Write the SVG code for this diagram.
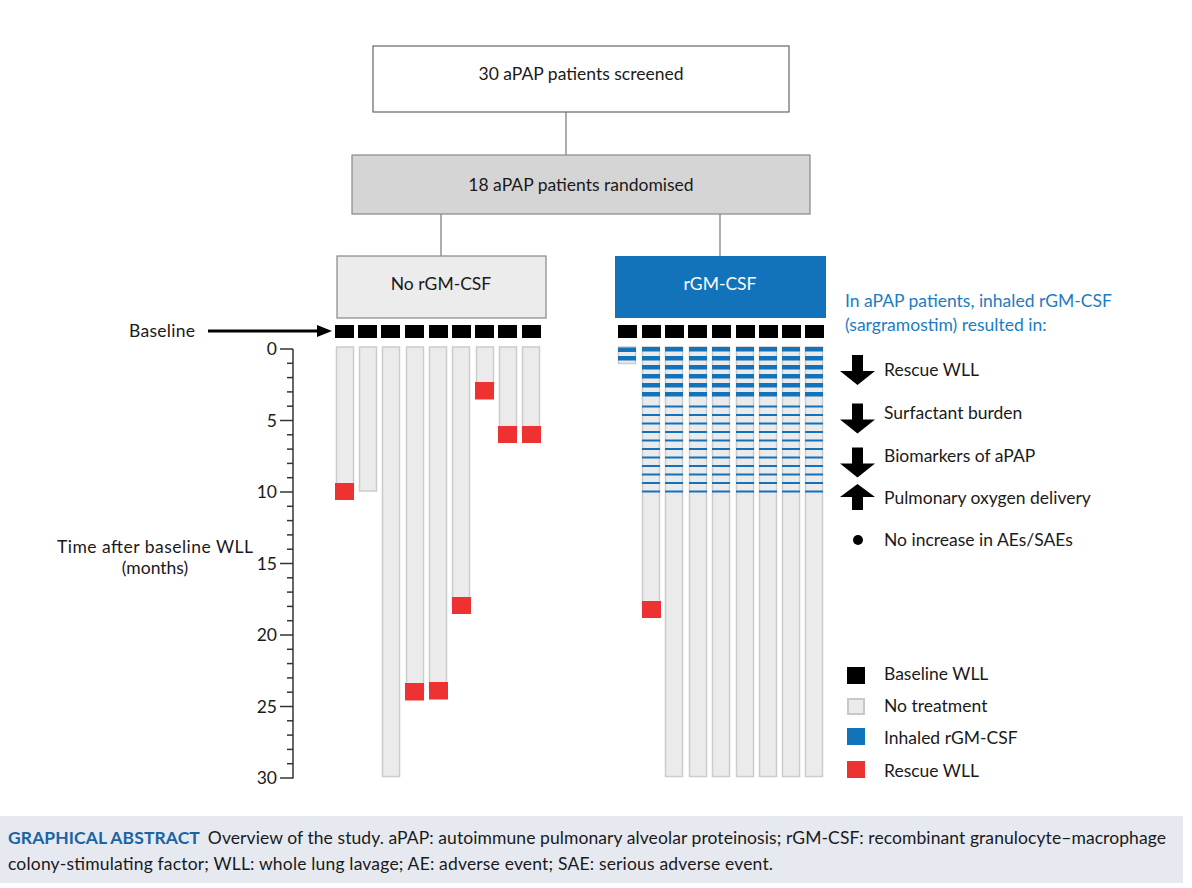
<svg xmlns="http://www.w3.org/2000/svg" xmlns:xlink="http://www.w3.org/1999/xlink" width="1192" height="888" viewBox="0 0 1192 888">
<style>
text{font-family:Lato,"Liberation Sans",sans-serif;fill:#1a1a1a}
.t{font-size:17.5px}
.c{text-anchor:middle}
.bar{fill:#ebebeb;stroke:#cccccc;stroke-width:1.5}
.blk{fill:#000}
.red{fill:#ee3131}
.blu{fill:#1273bb}
.tick{stroke:#333;stroke-width:1.5}
.conn{stroke:#777;stroke-width:1.2;fill:none}
.cap{font-size:17.5px}
</style>
<defs>
<g id="stripes" class="blu">
<rect x="0" y="347" width="18" height="4.5"/>
<rect x="0" y="356" width="18" height="4.5"/>
<rect x="0" y="365" width="18" height="4.5"/>
<rect x="0" y="374" width="18" height="4.5"/>
<rect x="0" y="383" width="18" height="4.5"/>
<rect x="0" y="392" width="18" height="4.5"/>
<rect x="0" y="405.5" width="18" height="2"/>
<rect x="0" y="414" width="18" height="2"/>
<rect x="0" y="422.5" width="18" height="2"/>
<rect x="0" y="431" width="18" height="2"/>
<rect x="0" y="439.5" width="18" height="2"/>
<rect x="0" y="448" width="18" height="2"/>
<rect x="0" y="456.5" width="18" height="2"/>
<rect x="0" y="465" width="18" height="2"/>
<rect x="0" y="473.5" width="18" height="2"/>
<rect x="0" y="482" width="18" height="2"/>
<rect x="0" y="490.5" width="18" height="2"/>
</g>
<polygon id="down" points="852,355 863,355 863,371 875,371 857.5,385 840,371 852,371"/>
</defs>

<g id="connectors">
<line class="conn" x1="566" y1="112" x2="566" y2="155"/>
<line class="conn" x1="441" y1="214" x2="441" y2="256"/>
<line class="conn" x1="720" y1="214" x2="720" y2="256"/>
</g>

<g id="screened">
<rect x="373" y="46" width="416" height="66" fill="#fff" stroke="#666" stroke-width="1.2"/>
<text class="t c" x="581" y="80">30 aPAP patients screened</text>
</g>
<g id="randomised">
<rect x="352" y="155" width="458" height="59" fill="#d5d5d5" stroke="#888" stroke-width="1.2"/>
<text class="t c" x="581" y="191">18 aPAP patients randomised</text>
</g>
<g id="no-rgmcsf">
<rect x="337" y="256" width="209" height="62" fill="#ececec" stroke="#888" stroke-width="1.2"/>
<text class="t c" x="441" y="290">No rGM-CSF</text>
</g>
<g id="rgmcsf">
<rect x="615" y="256" width="211" height="62" fill="#1273bb"/>
<text class="t c" x="720" y="290" style="fill:#fff">rGM-CSF</text>
</g>

<g id="baseline-label">
<text class="t" x="195" y="337" text-anchor="end" textLength="66">Baseline</text>
<line x1="208" y1="331" x2="320" y2="331" stroke="#000" stroke-width="3"/>
<polygon points="317,325 332,331 317,337" fill="#000"/>
</g>

<g id="axis">
<line class="tick" x1="293" y1="349" x2="293" y2="778.5"/>
<g>
<line class="tick" x1="280" y1="349" x2="293" y2="349"/>
<line class="tick" x1="287" y1="363.3" x2="293" y2="363.3"/>
<line class="tick" x1="287" y1="377.6" x2="293" y2="377.6"/>
<line class="tick" x1="287" y1="391.9" x2="293" y2="391.9"/>
<line class="tick" x1="287" y1="406.2" x2="293" y2="406.2"/>
<line class="tick" x1="280" y1="420.5" x2="293" y2="420.5"/>
<line class="tick" x1="287" y1="434.8" x2="293" y2="434.8"/>
<line class="tick" x1="287" y1="449.1" x2="293" y2="449.1"/>
<line class="tick" x1="287" y1="463.4" x2="293" y2="463.4"/>
<line class="tick" x1="287" y1="477.7" x2="293" y2="477.7"/>
<line class="tick" x1="280" y1="492" x2="293" y2="492"/>
<line class="tick" x1="287" y1="506.3" x2="293" y2="506.3"/>
<line class="tick" x1="287" y1="520.6" x2="293" y2="520.6"/>
<line class="tick" x1="287" y1="534.9" x2="293" y2="534.9"/>
<line class="tick" x1="287" y1="549.2" x2="293" y2="549.2"/>
<line class="tick" x1="280" y1="563.5" x2="293" y2="563.5"/>
<line class="tick" x1="287" y1="577.8" x2="293" y2="577.8"/>
<line class="tick" x1="287" y1="592.1" x2="293" y2="592.1"/>
<line class="tick" x1="287" y1="606.4" x2="293" y2="606.4"/>
<line class="tick" x1="287" y1="620.7" x2="293" y2="620.7"/>
<line class="tick" x1="280" y1="635" x2="293" y2="635"/>
<line class="tick" x1="287" y1="649.3" x2="293" y2="649.3"/>
<line class="tick" x1="287" y1="663.6" x2="293" y2="663.6"/>
<line class="tick" x1="287" y1="677.9" x2="293" y2="677.9"/>
<line class="tick" x1="287" y1="692.2" x2="293" y2="692.2"/>
<line class="tick" x1="280" y1="706.5" x2="293" y2="706.5"/>
<line class="tick" x1="287" y1="720.8" x2="293" y2="720.8"/>
<line class="tick" x1="287" y1="735.1" x2="293" y2="735.1"/>
<line class="tick" x1="287" y1="749.4" x2="293" y2="749.4"/>
<line class="tick" x1="287" y1="763.7" x2="293" y2="763.7"/>
<line class="tick" x1="280" y1="778" x2="293" y2="778"/>
</g>
<g text-anchor="end">
<text class="t" x="277" y="355">0</text>
<text class="t" x="277" y="426.5">5</text>
<text class="t" x="277" y="498">10</text>
<text class="t" x="277" y="569.5">15</text>
<text class="t" x="277" y="641">20</text>
<text class="t" x="277" y="712.5">25</text>
<text class="t" x="277" y="784">30</text>
</g>
<text class="t c" x="155" y="553" textLength="196">Time after baseline WLL</text>
<text class="t c" x="155" y="574">(months)</text>
</g>

<g id="control-arm">
<rect class="bar" x="336.5" y="347" width="17" height="143"/>
<rect class="bar" x="359.5" y="347" width="17" height="144"/>
<rect class="bar" x="382.5" y="347" width="17" height="429.5"/>
<rect class="bar" x="406.5" y="347" width="17" height="345"/>
<rect class="bar" x="429.5" y="347" width="17" height="344"/>
<rect class="bar" x="452.5" y="347" width="17" height="258"/>
<rect class="bar" x="476.5" y="347" width="17" height="44"/>
<rect class="bar" x="499.5" y="347" width="17" height="88"/>
<rect class="bar" x="522.5" y="347" width="17" height="88"/>
<rect class="red" x="335" y="483" width="19" height="17"/>
<rect class="red" x="405" y="683" width="19" height="17.5"/>
<rect class="red" x="429" y="682" width="19" height="17.5"/>
<rect class="red" x="452" y="597" width="19" height="17"/>
<rect class="red" x="475" y="382" width="19" height="17.5"/>
<rect class="red" x="498" y="426" width="19" height="17"/>
<rect class="red" x="522" y="426" width="19" height="17"/>
<rect class="blk" x="335" y="325" width="19" height="13"/>
<rect class="blk" x="358" y="325" width="19" height="13"/>
<rect class="blk" x="381" y="325" width="19" height="13"/>
<rect class="blk" x="405" y="325" width="19" height="13"/>
<rect class="blk" x="429" y="325" width="19" height="13"/>
<rect class="blk" x="452" y="325" width="19" height="13"/>
<rect class="blk" x="475" y="325" width="19" height="13"/>
<rect class="blk" x="498" y="325" width="19" height="13"/>
<rect class="blk" x="522" y="325" width="19" height="13"/>
</g>

<g id="treatment-arm">
<rect class="bar" x="618.5" y="347" width="17" height="16.5"/>
<rect class="blu" x="618" y="347.5" width="18" height="4.5"/>
<rect class="blu" x="618" y="356" width="18" height="4.5"/>
<rect class="bar" x="642.5" y="347" width="17" height="258"/>
<rect class="bar" x="665.5" y="347" width="17" height="429.5"/>
<rect class="bar" x="689.5" y="347" width="17" height="429.5"/>
<rect class="bar" x="712.5" y="347" width="17" height="429.5"/>
<rect class="bar" x="736.5" y="347" width="17" height="429.5"/>
<rect class="bar" x="759.5" y="347" width="17" height="429.5"/>
<rect class="bar" x="782.5" y="347" width="17" height="429.5"/>
<rect class="bar" x="805.5" y="347" width="17" height="429.5"/>
<use xlink:href="#stripes" x="642"/>
<use xlink:href="#stripes" x="665"/>
<use xlink:href="#stripes" x="689"/>
<use xlink:href="#stripes" x="712"/>
<use xlink:href="#stripes" x="736"/>
<use xlink:href="#stripes" x="759"/>
<use xlink:href="#stripes" x="782"/>
<use xlink:href="#stripes" x="805"/>
<rect class="red" x="642" y="601" width="19" height="17"/>
<rect class="blk" x="618" y="325" width="19" height="13"/>
<rect class="blk" x="642" y="325" width="19" height="13"/>
<rect class="blk" x="665" y="325" width="19" height="13"/>
<rect class="blk" x="688" y="325" width="19" height="13"/>
<rect class="blk" x="712" y="325" width="19" height="13"/>
<rect class="blk" x="736" y="325" width="19" height="13"/>
<rect class="blk" x="759" y="325" width="19" height="13"/>
<rect class="blk" x="782" y="325" width="19" height="13"/>
<rect class="blk" x="805" y="325" width="19" height="13"/>
</g>

<g id="results">
<text class="t" x="845" y="307" style="fill:#1c7cc2">In aPAP patients, inhaled rGM-CSF</text>
<text class="t" x="845" y="331" style="fill:#1c7cc2">(sargramostim) resulted in:</text>
<use xlink:href="#down"/>
<use xlink:href="#down" y="48.5"/>
<use xlink:href="#down" y="92.5"/>
<polygon points="852,510 863,510 863,497 875,497 857.5,484 840,497 852,497" fill="#000"/>
<circle cx="858" cy="540" r="5" fill="#000"/>
<text class="t" x="884" y="376">Rescue WLL</text>
<text class="t" x="884" y="419">Surfactant burden</text>
<text class="t" x="884" y="462">Biomarkers of aPAP</text>
<text class="t" x="884" y="504">Pulmonary oxygen delivery</text>
<text class="t" x="884" y="546">No increase in AEs/SAEs</text>
</g>

<g id="legend">
<rect class="blk" x="847" y="667" width="18" height="17"/>
<rect x="848" y="699" width="16" height="15" fill="#ebebeb" stroke="#c8c8c8" stroke-width="2"/>
<rect class="blu" x="847" y="728" width="18" height="17"/>
<rect class="red" x="847" y="761" width="18" height="17"/>
<text class="t" x="884" y="680">Baseline WLL</text>
<text class="t" x="884" y="712">No treatment</text>
<text class="t" x="884" y="744">Inhaled rGM-CSF</text>
<text class="t" x="884" y="777">Rescue WLL</text>
</g>

<g id="caption">
<rect x="0" y="816" width="1183" height="67" fill="#e6e9f0"/>
<text class="cap" x="8" y="844" textLength="1158"><tspan style="fill:#1a64a3;font-weight:bold">GRAPHICAL ABSTRACT</tspan><tspan dx="8">Overview of the study. aPAP: autoimmune pulmonary alveolar proteinosis; rGM-CSF: recombinant granulocyte–macrophage</tspan></text>
<text class="cap" x="8" y="870" textLength="765">colony-stimulating factor; WLL: whole lung lavage; AE: adverse event; SAE: serious adverse event.</text>
</g>
</svg>
